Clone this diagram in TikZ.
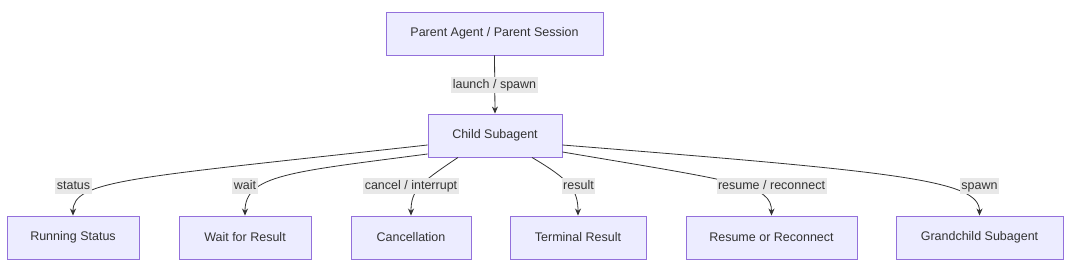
\documentclass[tikz,border=0pt]{standalone}
\usepackage{fontspec}
\setmainfont{Liberation Sans}
\usetikzlibrary{arrows.meta,calc}
\definecolor{boxfill}{HTML}{ECECFF}
\definecolor{boxdraw}{HTML}{9370DB}
\definecolor{txt}{HTML}{333333}
\definecolor{lblfill}{HTML}{E8E8E8}
\tikzset{
  box/.style={draw=boxdraw, fill=boxfill, line width=0.9pt, minimum height=43pt, inner sep=0pt,
    text=txt, font=\fontsize{12.5}{15}\selectfont},
  lbl/.style={fill=lblfill, text=txt, inner sep=1.5pt, font=\fontsize{12.5}{15}\selectfont,
    text height=9.5pt, text depth=3pt},
  edge/.style={draw=txt, line width=0.8pt, -{Stealth[length=7pt,width=6pt]}}
}
\begin{document}
\begin{tikzpicture}[x=1pt,y=-1pt]
\useasboundingbox (0,0) rectangle (1069,264);
\fill[white] (0,0) rectangle (1069,264);
\node[box, minimum width=217pt] (parent) at (494.5,33.5) {Parent Agent / Parent Session};
\node[box, minimum width=134pt] (child) at (495,135.5) {Child Subagent};
\node[box, minimum width=132pt] (run) at (73,237.5) {Running Status};
\node[box, minimum width=132pt] (wait) at (245,237.5) {Wait for Result};
\node[box, minimum width=120pt] (canc) at (411,237.5) {Cancellation};
\node[box, minimum width=136pt] (term) at (578,237.5) {Terminal Result};
\node[box, minimum width=171pt] (res) at (771.5,237.5) {Resume or Reconnect};
\node[box, minimum width=167pt] (grand) at (979.5,237.5) {Grandchild Subagent};

\draw[edge] (parent.south) -- (child.north);
\draw[edge] ($(child.west)+(0,9.5)$) .. controls (130,178) and (73,180) .. (run.north);
\draw[edge] ($(child.west)+(0,18.5)$) .. controls (290,172) and (245,175) .. (wait.north);
\draw[edge] ($(child.south)+(-37,0)$) .. controls (420,183) and (411,190) .. (canc.north);
\draw[edge] ($(child.south)+(37,0)$) .. controls (570,180) and (578,190) .. (term.north);
\draw[edge] ($(child.east)+(0,16.5)$) .. controls (740,182) and (771.5,185) .. (res.north);
\draw[edge] ($(child.east)+(0,9.5)$) .. controls (900,172) and (979.5,180) .. (grand.north);

\node[lbl] (l0) at (494.5,85) {launch / spawn};
\node[lbl] (l1) at (73.5,186) {status};
\node[lbl] (l2) at (245,186) {wait};
\node[lbl] (l3) at (411,186) {cancel / interrupt};
\node[lbl] (l4) at (578.5,186) {result};
\node[lbl] (l5) at (771.5,186) {resume / reconnect};
\node[lbl] (l6) at (979.5,186) {spawn};
\end{tikzpicture}
\end{document}
